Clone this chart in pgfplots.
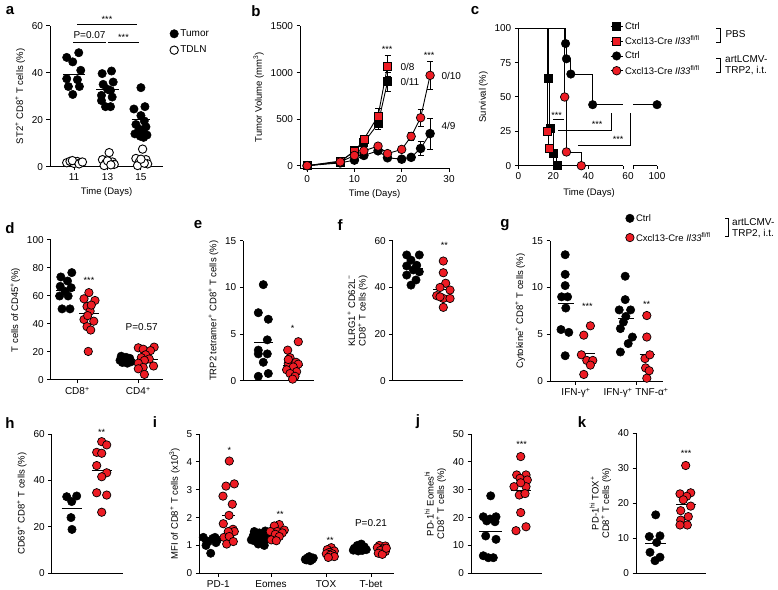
\documentclass[border=0pt]{standalone}
\usepackage{fontspec}
\setmainfont{Liberation Sans}
\usepackage{pgfplots}
\pgfplotsset{compat=1.18}
\definecolor{myred}{RGB}{237,28,36}
\newcommand{\sfs}{\fontsize{10}{11}\selectfont}
\newcommand{\lfs}{\fontsize{9.5}{10.5}\selectfont}
\newcommand{\sig}{\fontsize{9}{10}\selectfont}
\newcommand{\pl}{\fontsize{15}{15}\selectfont\bfseries}
\pgfplotsset{
  base/.style={
    scale only axis, anchor=south west, clip=false,
    axis x line*=bottom, axis y line*=left,
    axis line style={line width=1pt,-},
    every tick/.style={black,line width=1pt},
    major tick length=3.5pt, tick align=outside,
    tick label style={font=\sfs},
    label style={font=\lfs},
    ylabel style={align=center},
    /pgf/number format/assume math mode=true,
    /pgf/number format/1000 sep={},
    legend style={draw=none,fill=none,font=\sfs,inner sep=0pt},
    legend cell align=left,
  },
  blk/.style={only marks, mark=*, mark size=4.2pt, mark options={fill=black,draw=black,line width=0.5pt}},
  rd/.style={only marks, mark=*, mark size=4.2pt, mark options={fill=myred,draw=black,line width=0.7pt}},
  opn/.style={only marks, mark=*, mark size=4.2pt, mark options={fill=white,draw=black,line width=0.9pt}},
  mean/.style={no marks, black, line width=1pt, forget plot},
  ebar/.style={error bars/.cd, y dir=both, y explicit,
    error bar style={black,line width=0.8pt},
    error mark options={rotate=90,black,mark size=3pt,line width=0.8pt}},
  dotleg/.style={legend image code/.code={\draw[##1] plot coordinates {(0pt,0pt)};}},
  survleg/.style={legend image code/.code={\draw[black,line width=0.9pt] (-6pt,0pt) -- (6pt,0pt); \draw[##1] plot coordinates {(0pt,0pt)};}},
}
\begin{document}
\begin{tikzpicture}
\useasboundingbox (0pt,0pt) rectangle (778pt,589pt);

% ---------------- a ----------------
\begin{axis}[base, at={(50pt,422.3pt)}, width=113pt, height=140.7pt,
  xmin=-0.72, xmax=2.66, ymin=0, ymax=60,
  xtick={0,1,2}, xticklabels={11,13,15}, ytick={0,20,40,60},
  xlabel={Time (Days)}, ylabel={ST2\textsuperscript{+} CD8\textsuperscript{+} T cells (\%)},
  legend style={at={(1.06,0.99)},anchor=north west,row sep=4pt,font=\fontsize{10}{11}\selectfont},
  dotleg]
\addplot[blk] coordinates {(0.14,48.6)(-0.22,46.6)(-0.04,44.7)(0.20,41.1)(-0.22,37.5)(0.10,37.1)(-0.17,34.2)(0.16,34.2)(-0.04,30.8)
 (1.12,40.8)(0.84,39.7)(1.17,36.1)(0.87,35.1)(1.09,32.5)(1.0,33)(0.82,30.4)(1.14,29.7)(0.82,28.2)(1.09,25.6)(0.94,25.6)
 (2.0,33.7)(1.79,24.6)(2.12,25.6)(2.0,21.8)(2.1,19.5)(1.85,18)(2.15,17)(1.95,16)(2.05,15)(1.82,14)(2.18,13.5)(1.98,13)(2.08,12.5)};
\addlegendentry{Tumor}
\addplot[opn] coordinates {(-0.22,1.7)(-0.12,2.3)(0.0,1.4)(0.1,2.2)(0.2,1.8)(-0.05,2.6)(0.15,1.2)(0.25,2.0)
 (1.05,6.0)(0.85,3.0)(0.95,1.5)(1.15,2.0)(1.2,1.0)(0.9,0.5)(1.0,2.5)(1.1,0.8)
 (2.05,7.5)(1.85,3.5)(2.15,3.0)(1.95,2.0)(2.2,1.2)(1.9,0.5)(2.1,1.5)(2.0,3.2)};
\addlegendentry{TDLN}
\addplot[mean] coordinates {(-0.32,39.4)(0.32,39.4)};
\addplot[mean] coordinates {(0.66,32.8)(1.34,32.8)};
\addplot[mean] coordinates {(1.72,20)(2.28,20)};
\addplot[mean] coordinates {(1.72,2.6)(2.28,2.6)};
\end{axis}
\draw[line width=0.9pt] (77pt,565pt) -- (137pt,565pt);
\draw[line width=0.9pt] (73pt,546.3pt) -- (106pt,546.3pt);
\draw[line width=0.9pt] (108pt,546.3pt) -- (139pt,546.3pt);
\node[font=\sig] at (107pt,570pt) {***};
\node[font=\sfs] at (89.5pt,553.5pt) {P=0.07};
\node[font=\sig] at (123.5pt,551.5pt) {***};
\node[font=\pl] at (10pt,578pt) {a};

% ---------------- b ----------------
\begin{axis}[base, at={(300pt,420.5pt)}, width=149pt, height=142.5pt,
  xmin=-1.5, xmax=30, ymin=-30, ymax=1500,
  xtick={0,10,20,30}, ytick={0,500,1000,1500},
  xlabel={Time (Days)}, ylabel={Tumor Volume (mm\textsuperscript{3})}]
\addplot[black, line width=0.9pt, mark=square*, mark size=4pt, mark options={fill=black}, ebar]
 coordinates {(0,0)+-(0,0) (7,40)+-(0,10) (10,160)+-(0,20) (12,250)+-(0,40) (15,450)+-(0,60) (17,900)+-(0,100)};
\addplot[black, line width=0.9pt, mark=square*, mark size=4pt, mark options={fill=myred,draw=black,line width=0.7pt}, ebar]
 coordinates {(0,0)+-(0,0) (7,50)+-(0,10) (10,150)+-(0,25) (12,283)+-(0,45) (15,533)+-(0,80) (17,1070)+-(0,110)};
\addplot[black, line width=0.9pt, mark=*, mark size=4.3pt, mark options={fill=black}, ebar]
 coordinates {(0,0)+-(0,0) (7,30)+-(0,10) (10,60)+-(0,10) (12,110)+-(0,15) (15,160)+-(0,25) (17,85)+-(0,15) (20,70)+-(0,10) (22,90)+-(0,15) (24,185)+-(0,75) (26,345)+-(0,165)};
\addplot[black, line width=0.9pt, mark=*, mark size=4.3pt, mark options={fill=myred,draw=black,line width=0.7pt}, ebar]
 coordinates {(0,0)+-(0,0) (7,40)+-(0,10) (10,110)+-(0,20) (12,160)+-(0,20) (15,210)+-(0,25) (17,130)+-(0,20) (20,175)+-(0,25) (22,315)+-(0,40) (24,515)+-(0,90) (26,970)+-(0,150)};
\end{axis}
\node[font=\sig] at (387pt,540pt) {***};
\node[font=\sig] at (429pt,534pt) {***};
\node[font=\sfs,anchor=west] at (397pt,522.3pt) {0/8};
\node[font=\sfs,anchor=west] at (397pt,507.3pt) {0/11};
\node[font=\sfs,anchor=west] at (438pt,513pt) {0/10};
\node[font=\sfs,anchor=west] at (438pt,463pt) {4/9};
\node[font=\pl] at (256pt,578pt) {b};

% ---------------- c ----------------
\begin{axis}[base, at={(518.3pt,423.3pt)}, width=105pt, height=137.4pt,
  xmin=0, xmax=60, ymin=0, ymax=100,
  xtick={0,20,40,60}, xticklabels={0,20,40,{}}, ytick={0,25,50,75,100},
  ylabel={Survival (\%)},
  legend style={at={(0.873,1.06)},anchor=north west,row sep=1.5pt,font=\fontsize{9.5}{10.5}\selectfont}, survleg]
\addplot[const plot, black, line width=0.9pt, forget plot] coordinates {(0,100)(16.5,25)(17.5,12.5)(20,0)};
\addplot[const plot, black, line width=0.9pt, forget plot] coordinates {(0,100)(17,63.6)(18,27.3)(20,9.1)(22,0)};
\addplot[const plot, black, line width=0.9pt, forget plot] coordinates {(0,100)(26.5,50)(27.5,10)(36,0)};
\addplot[const plot, black, line width=0.9pt, forget plot] coordinates {(0,100)(27,88.9)(27.5,77.8)(30,66.7)(42.5,44.4)(60,44.4)};
\addplot[only marks, mark=square*, mark size=4pt, mark options={fill=black}]
  coordinates {(17,63.6)(18,27.3)(20,9.1)(22,0)};
\addlegendentry{Ctrl}
\addplot[only marks, mark=square*, mark size=4pt, mark options={fill=myred,draw=black,line width=0.7pt}]
  coordinates {(16.5,25)(17.5,12.5)};
\addlegendentry{Cxcl13-Cre \textit{Il33}\textsuperscript{fl/fl}}
\addplot[only marks, mark=*, mark size=4.3pt, mark options={fill=black}]
  coordinates {(27,88.9)(27.5,77.8)(30,66.7)(42.5,44.4)};
\addlegendentry{Ctrl}
\addplot[only marks, mark=*, mark size=4.3pt, mark options={fill=myred,draw=black,line width=0.7pt}]
  coordinates {(26.5,50)(27.5,10)(36,0)};
\addlegendentry{Cxcl13-Cre \textit{Il33}\textsuperscript{fl/fl}}
\end{axis}
\begin{axis}[base, at={(633pt,423.3pt)}, width=24pt, height=137.4pt,
  xmin=60, xmax=100, ymin=0, ymax=100, axis y line=none,
  xtick={60,100}, xticklabels={{},100}]
\addplot[black, line width=0.9pt] coordinates {(60,44.4)(100,44.4)};
\addplot[only marks, mark=*, mark size=4.3pt, mark options={fill=black}] coordinates {(100,44.4)};
\end{axis}
\node[font=\sfs,anchor=north] at (628pt,419.8pt) {60};
\node[font=\lfs] at (589pt,396pt) {Time (Days)};
\draw[line width=0.8pt] (553pt,469.7pt) -- (564pt,469.7pt);
\node[font=\sig] at (556.7pt,474pt) {***};
\draw[line width=0.8pt] (558pt,458.3pt) -- (611pt,458.3pt) -- (611pt,476.3pt);
\node[font=\sig] at (597pt,464.3pt) {***};
\draw[line width=0.8pt] (578pt,443.3pt) -- (630.7pt,443.3pt) -- (630.7pt,476.3pt);
\node[font=\sig] at (618pt,449.3pt) {***};
\draw[line width=0.8pt] (716pt,560.7pt) -- (720pt,560.7pt) -- (720pt,546.3pt) -- (716pt,546.3pt);
\node[font=\sfs,anchor=west] at (722pt,555pt) {PBS};
\draw[line width=0.8pt] (716pt,531pt) -- (720pt,531pt) -- (720pt,516.3pt) -- (716pt,516.3pt);
\node[font=\sfs,anchor=west,align=left,inner sep=1pt] at (724pt,524pt) {artLCMV-\\TRP2, i.t.};
\node[font=\pl] at (475pt,578pt) {c};

% ---------------- d ----------------
\begin{axis}[base, at={(50.7pt,209pt)}, width=112.3pt, height=140pt,
  xmin=-0.436, xmax=1.405, ymin=0, ymax=100,
  xtick={0,1}, xticklabels={CD8\textsuperscript{+},CD4\textsuperscript{+}}, ytick={0,20,40,60,80,100},
  ylabel={T cells of CD45\textsuperscript{+}(\%)}]
\addplot[blk] coordinates {(-0.27,73.6)(-0.09,76.7)(-0.16,70.7)(-0.28,66.9)(-0.10,65.9)(-0.2,63.3)(-0.29,60)(-0.15,60)(-0.25,50.8)(-0.12,50.8)
 (0.72,17)(0.8,16.2)(0.86,15.5)(0.75,15)(0.83,14.5)(0.7,14)(0.78,13.5)(0.88,13)(0.74,12.5)(0.82,12)};
\addplot[rd] coordinates {(0.19,62.4)(0.11,58)(0.29,56.8)(0.16,52.5)(0.21,49.2)(0.11,43.2)(0.27,42)(0.16,38.1)(0.22,35.7)(0.18,20.4)(0.17,46)(0.23,53.5)
 (1.0,23)(1.26,23.5)(1.08,22)(1.2,21)(1.12,18)(1.05,16)(1.18,15)(1.1,14)(1.0,12)(1.25,10)(1.08,9)(1.0,8)(1.1,4)};
\addplot[mean] coordinates {(-0.35,63.8)(-0.03,63.8)};
\addplot[mean] coordinates {(0.03,47.2)(0.35,47.2)};
\addplot[mean] coordinates {(0.63,14.3)(0.95,14.3)};
\addplot[mean] coordinates {(0.98,14.5)(1.32,14.5)};
\end{axis}
\node[font=\sig] at (89pt,309pt) {***};
\node[font=\sfs] at (141.7pt,262.3pt) {P=0.57};
\node[font=\pl] at (10pt,361pt) {d};

% ---------------- e ----------------
\begin{axis}[base, at={(243.3pt,208pt)}, width=70.2pt, height=140.3pt,
  xmin=0, xmax=70.2, ymin=0, ymax=15, xtick=\empty, ytick={0,5,10,15},
  ylabel={TRP2 tetramer\textsuperscript{+} CD8\textsuperscript{+} T cells (\%)}]
\addplot[blk] coordinates {(20,10.3)(15,7.3)(25,6.6)(24,4.4)(15,3.3)(15,2.9)(24,2.9)(20,2.0)(25,0.8)(15,0.5)};
\addplot[rd] coordinates {(55,4.2)(44.4,3.3)(46.7,2.5)(45,1.9)(52.7,2.0)(55,1.8)(50,1.5)(43.3,1.2)(53.3,1.0)(46.7,0.8)(51.7,0.5)(49.3,0.2)(45,2.3)};
\addplot[mean] coordinates {(10.7,4.1)(30,4.1)};
\addplot[mean] coordinates {(40,1.7)(60,1.7)};
\end{axis}
\node[font=\sig] at (292.7pt,261pt) {*};
\node[font=\pl] at (198pt,364pt) {e};

% ---------------- f ----------------
\begin{axis}[base, at={(392.7pt,208pt)}, width=70.6pt, height=140.3pt,
  xmin=0, xmax=70.6, ymin=0, ymax=60, xtick=\empty, ytick={0,20,40,60},
  ylabel={KLRG1\textsuperscript{+} CD62L\textsuperscript{−}\\CD8\textsuperscript{+} T cells (\%)}]
\addplot[blk] coordinates {(14,53.9)(26.6,53.9)(18.3,51.7)(14,49.2)(26.6,46.7)(14,45.3)(23.3,43.2)(18.3,41.0)(20.6,47.5)(24,49.5)};
\addplot[rd] coordinates {(50.6,51.3)(50.6,46.3)(53,41.8)(47.3,40)(57.3,38.9)(44,36.5)(50.6,35.3)(57.3,35.3)(47.3,36)(50.6,31.5)};
\addplot[mean] coordinates {(10.6,47.9)(30.6,47.9)};
\addplot[mean] coordinates {(40.6,39.2)(60.6,39.2)};
\end{axis}
\node[font=\sig] at (444.3pt,343.7pt) {**};
\node[font=\pl] at (340pt,364pt) {f};

% ---------------- g ----------------
\begin{axis}[base, at={(550pt,208pt)}, width=112.7pt, height=140.3pt,
  xmin=-0.433, xmax=1.445, ymin=0, ymax=15,
  xtick={0,1}, xticklabels={IFN-γ\textsuperscript{+},IFN-γ\textsuperscript{+} TNF-α\textsuperscript{+}}, ytick={0,5,10,15},
  ylabel={Cytokine\textsuperscript{+} CD8\textsuperscript{+} T cells (\%)},
  legend style={at={(0.67,1.205)},anchor=north west,row sep=6pt,font=\fontsize{9.5}{10.5}\selectfont}, dotleg]
\addplot[blk] coordinates {(-0.18,13.5)(-0.18,11.4)(-0.18,10.2)(-0.24,9.0)(-0.14,9.0)(-0.17,7.8)(-0.25,5.5)(-0.12,5.2)(-0.18,2.7)
 (0.82,11.2)(0.82,8.7)(0.72,7.6)(0.91,7.6)(0.83,6.9)(0.79,6.3)(0.74,5.6)(0.94,4.7)(0.87,4.0)(0.74,3.1)};
\addlegendentry{Ctrl}
\addplot[rd] coordinates {(0.24,5.9)(0.13,4.9)(0.09,2.8)(0.18,2.2)(0.28,2.2)(0.24,1.7)(0.13,0.7)
 (1.18,7.0)(1.18,4.7)(1.15,2.4)(1.23,2.8)(1.16,1.4)(1.22,1.1)(1.18,0.3)};
\addlegendentry{Cxcl13-Cre \textit{Il33}\textsuperscript{fl/fl}}
\addplot[mean] coordinates {(-0.30,8.3)(-0.04,8.3)};
\addplot[mean] coordinates {(0.06,2.9)(0.32,2.9)};
\addplot[mean] coordinates {(0.70,6.7)(0.96,6.7)};
\addplot[mean] coordinates {(1.06,2.8)(1.32,2.8)};
\end{axis}
\node[font=\sig] at (587.3pt,283pt) {***};
\node[font=\sig] at (646.7pt,284.3pt) {**};
\draw[line width=0.8pt] (725pt,371pt) -- (728.3pt,371pt) -- (728.3pt,353pt) -- (725pt,353pt);
\node[font=\sfs,anchor=west,align=left,inner sep=1pt] at (731pt,361pt) {artLCMV-\\TRP2, i.t.};
\node[font=\pl] at (505pt,364pt) {g};

% ---------------- h ----------------
\begin{axis}[base, at={(51.7pt,15.7pt)}, width=71.6pt, height=139.3pt,
  xmin=0, xmax=71.6, ymin=0, ymax=60, xtick=\empty, ytick={0,20,40,60},
  ylabel={CD69\textsuperscript{+} CD8\textsuperscript{+} T cells (\%)}]
\addplot[blk] coordinates {(15,33)(25,33.3)(20,30.9)(19.3,24)(20.3,18.9)};
\addplot[rd] coordinates {(50,56.7)(55,55.3)(45,52.1)(50,51.7)(45,46.4)(55,43.3)(50,41.6)(45,34.7)(55,33.7)(50,26.3)};
\addplot[mean] coordinates {(10,28.0)(30,28.0)};
\addplot[mean] coordinates {(40,44.2)(60,44.2)};
\end{axis}
\node[font=\sig] at (101.7pt,157pt) {**};
\node[font=\pl] at (10pt,166pt) {h};

% ---------------- i ----------------
\begin{axis}[base, at={(199.3pt,15.7pt)}, width=194.7pt, height=139.3pt,
  xmin=0, xmax=194.7, ymin=0, ymax=5,
  xtick={19,71.7,126.7,171.7}, xticklabels={PD-1,Eomes,TOX,T-bet}, ytick={0,1,2,3,4,5},
  ylabel={MFI of CD8\textsuperscript{+} T cells (x10\textsuperscript{3})}]
\addplot[blk] coordinates {(4,1.29)(15.7,1.29)(9,1.14)(18,1.2)(6.7,1.0)(11.4,0.72)(13.4,1.25)(7.4,1.15)(16.7,1.1)
 (55,1.5)(66,1.52)(60,1.45)(68,1.4)(54,1.35)(62,1.3)(57,1.25)(66,1.2)(56,1.15)(63,1.1)(59,1.05)(65,1.0)(69,1.3)(52,1.2)
 (110,0.6)(108,0.55)(113,0.5)(106,0.5)(111,0.45)(114,0.55)(109,0.52)(107,0.48)
 (162,1.05)(158,1.0)(165,0.95)(155,0.9)(161,0.88)(167,0.85)(157,0.85)(163,0.82)(159,0.8)(154,0.83)};
\addplot[rd] coordinates {(30,4.03)(26.7,3.13)(35,3.21)(23.7,2.77)(33,2.48)(29.7,2.08)(24,1.78)(33.7,1.58)(24.7,1.29)(35,1.5)(29,1.5)(30,1.32)(27.4,1.05)(34,1.14)
 (80,1.75)(75,1.7)(85,1.55)(78,1.5)(71,1.5)(83,1.45)(76,1.4)(80,1.32)(72,1.2)(77,1.17)
 (132,0.92)(128,0.85)(135,0.8)(130,0.75)(133,0.7)(127,0.7)(131,0.65)(135,0.6)(129,0.57)
 (180,1.0)(186,0.98)(178,0.92)(184,0.88)(181,0.82)(186,0.78)(179,0.72)(183,0.68)(187,0.9)};
\addplot[mean] coordinates {(4,1.13)(18,1.13)};
\addplot[mean] coordinates {(23,2.07)(36,2.07)};
\addplot[mean] coordinates {(54,1.27)(68,1.27)};
\addplot[mean] coordinates {(71,1.48)(85,1.48)};
\addplot[mean] coordinates {(103,0.52)(117,0.52)};
\addplot[mean] coordinates {(124,0.73)(138,0.73)};
\addplot[mean] coordinates {(154,0.87)(168,0.87)};
\addplot[mean] coordinates {(176,0.83)(190,0.83)};
\end{axis}
\node[font=\sig] at (229.3pt,138.7pt) {*};
\node[font=\sig] at (280pt,74.3pt) {**};
\node[font=\sig] at (330pt,48.7pt) {**};
\node[font=\sfs] at (371pt,66.3pt) {P=0.21};
\node[font=\pl] at (155pt,167pt) {i};

% ---------------- j ----------------
\begin{axis}[base, at={(471pt,15.7pt)}, width=70.7pt, height=139.3pt,
  xmin=0, xmax=70.7, ymin=0, ymax=50, xtick=\empty, ytick={0,10,20,30,40,50},
  ylabel={PD-1\textsuperscript{hi} Eomes\textsuperscript{hi}\\CD8\textsuperscript{+} T cells (\%)}]
\addplot[blk] coordinates {(19.7,27.8)(12.3,20.3)(25,20.3)(15.7,18.8)(24,18.5)(14.7,13.4)(25,12.2)(12.3,6.3)(17.3,5.6)(22.3,5.6)(19,19.5)};
\addplot[rd] coordinates {(49.7,41.9)(45.7,35.3)(55,35.3)(49,34.1)(56.3,33.5)(43,31.1)(55,31.1)(49.7,32.5)(48.3,28.1)(54,28.6)(49.7,21.8)(45,15.3)(55,16.7)};
\addplot[mean] coordinates {(8.3,14.9)(30.7,14.9)};
\addplot[mean] coordinates {(39.7,29.9)(59.7,29.9)};
\end{axis}
\node[font=\sig] at (521.7pt,144.3pt) {***};
\node[font=\pl] at (418pt,167pt) {j};

% ---------------- k ----------------
\begin{axis}[base, at={(636pt,15.7pt)}, width=70pt, height=140pt,
  xmin=0, xmax=70, ymin=0, ymax=40, xtick=\empty, ytick={0,10,20,30,40},
  ylabel={PD-1\textsuperscript{hi} TOX\textsuperscript{+}\\CD8\textsuperscript{+} T cells (\%)}]
\addplot[blk] coordinates {(19.7,16.7)(24,10.7)(13.3,10.5)(20.7,8.8)(14,6.0)(24,4.6)(19,3.6)};
\addplot[rd] coordinates {(49.7,30.8)(44,22.7)(54.7,23.0)(50.7,22.0)(47.3,21.0)(44.7,17.9)(54.7,19.2)(44.7,15.2)(52.3,16.2)(51.3,13.8)(44,13.8)};
\addplot[mean] coordinates {(9,8.6)(30,8.6)};
\addplot[mean] coordinates {(40,19.7)(60,19.7)};
\end{axis}
\node[font=\sig] at (686pt,136pt) {***};
\node[font=\pl] at (582pt,167pt) {k};
\end{tikzpicture}
\end{document}
